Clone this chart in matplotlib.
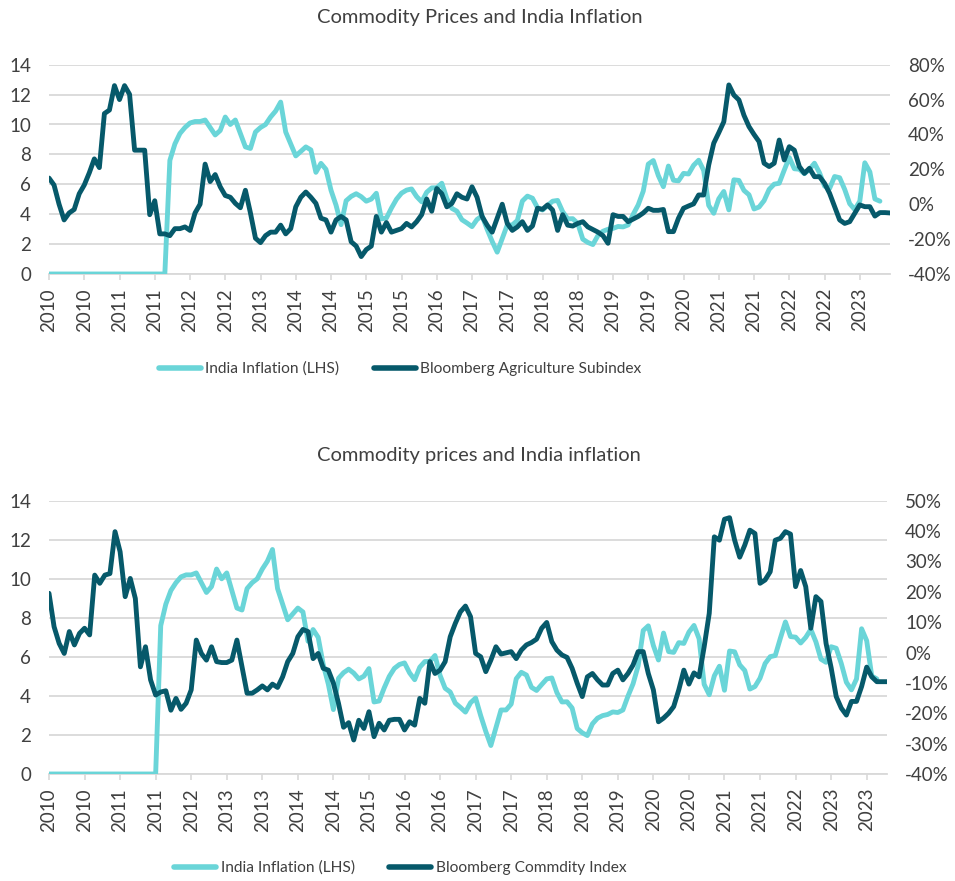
import matplotlib
matplotlib.use('Agg')
import matplotlib.pyplot as plt
from matplotlib.lines import Line2D

# ---------------- data ----------------
# India CPI inflation YoY (%), monthly Jan 2012 - Oct 2023 (series is 0 before 2012)
india_cpi = [
    7.6, 8.7, 9.4, 9.8, 10.1, 10.2, 10.2, 10.3, 9.8, 9.3, 9.6, 10.5,        # 2012
    10.0, 10.3, 9.4, 8.5, 8.4, 9.5, 9.8, 10.0, 10.5, 10.9, 11.5, 9.5,       # 2013
    8.7, 7.9, 8.2, 8.5, 8.3, 6.8, 7.4, 7.0, 5.6, 4.6, 3.3, 4.9,             # 2014
    5.19, 5.37, 5.17, 4.87, 5.01, 5.40, 3.69, 3.74, 4.41, 5.00, 5.41, 5.61,  # 2015
    5.69, 5.18, 4.83, 5.47, 5.76, 5.77, 6.07, 5.05, 4.39, 4.20, 3.63, 3.41,  # 2016
    3.17, 3.65, 3.89, 2.99, 2.18, 1.46, 2.36, 3.28, 3.28, 3.58, 4.88, 5.21,  # 2017
    5.07, 4.44, 4.28, 4.58, 4.87, 4.92, 4.17, 3.69, 3.70, 3.38, 2.33, 2.11,  # 2018
    1.97, 2.57, 2.86, 2.99, 3.05, 3.18, 3.15, 3.28, 3.99, 4.62, 5.54, 7.35,  # 2019
    7.59, 6.58, 5.84, 7.22, 6.27, 6.23, 6.73, 6.69, 7.27, 7.61, 6.93, 4.59,  # 2020
    4.06, 5.03, 5.52, 4.29, 6.30, 6.26, 5.59, 5.30, 4.35, 4.48, 4.91, 5.66,  # 2021
    6.01, 6.07, 6.95, 7.79, 7.04, 7.01, 6.71, 7.00, 7.41, 6.77, 5.88, 5.72,  # 2022
    6.52, 6.44, 5.66, 4.70, 4.31, 4.87, 7.44, 6.83, 5.02, 4.87,              # 2023
]

# Bloomberg Agriculture Subindex YoY (%), monthly Jan 2010 - Dec 2023
agri_yoy = [
    15, 11, 0, -9, -5, -3, 6, 11, 18, 26, 21, 52,                 # 2010
    54, 68, 60, 68, 63, 31, 31, 31, -6, 2, -17, -17,              # 2011
    -18, -14, -14, -13, -15, -5, 0, 23, 13, 17, 10, 5,            # 2012
    4, 0.5, -2, 8, -5, -19.5, -22, -18, -16, -16, -12, -17,       # 2013
    -14, -1.5, 4, 7, 4, 0.5, -8, -9, -16, -9, -7, -9,             # 2014
    -21.5, -24, -30, -26, -24, -7, -16, -10.5, -16, -15, -14, -11,  # 2015
    -13, -10, -6, 3, -4, 9, 6, -1.5, 0.5, 6, 4, 3,                # 2016
    10, 4, -7, -12, -16, -8, 0, -11, -15, -13, -10, -15,          # 2017
    -12.5, -2.3, -2.9, -0.4, -3.3, -15, -6, -12, -12.5, -11, -10, -13,  # 2018
    -14.5, -16, -18, -22.4, -6, -7, -7, -10, -8.5, -7, -5, -2.3,  # 2019
    -3.5, -3.5, -3, -15.7, -15.7, -8, -2.3, -1, 0.2, 5.3, 5.3, 22.5,  # 2020
    35, 41, 47.3, 68.4, 62.6, 59.8, 51, 44.5, 40, 35.9, 23.5, 21.6,   # 2021
    23.5, 36.8, 25.4, 33, 31, 21.6, 17.7, 20.6, 15.8, 15.8, 12, 6.3,  # 2022
    -1.4, -9, -11, -10, -5.2, -0.4, -1.4, -1.4, -6.8, -4.8, -4.8, -5,  # 2023
]

# Bloomberg Commodity Index YoY (%), monthly Mar 2010 - Dec 2023
bcom_yoy = [
    19.5, 8.5, 3, -0.3, 6.9, 2.5, 6.3, 8, 5.8, 25.5,               # 2010 (Mar-Dec)
    22.8, 25.5, 26, 39.8, 33.2, 18.4, 24.4, 17.8, -4.7, 1.9, -9, -14,   # 2011
    -13, -12.6, -19, -15.1, -18.7, -16.7, -12.3, 4.1, -0.3, -2.5, 1.9, -3,  # 2012
    -3.3, -3.3, -2.5, 4.1, -4.7, -13.4, -13.4, -12.3, -11, -12.3, -10.4, -11.5,  # 2013
    -8, -3, -0.3, 5.2, 7.6, 6.9, -2, -0.3, -5.2, -5.8, -10.1, -16.7,   # 2014
    -24.6, -23.1, -28.8, -22.3, -25, -19.5, -27.7, -23.3, -25.5, -22.3, -22, -22,  # 2015
    -25.5, -22.8, -23.9, -15.1, -16.7, -3, -6.9, -5.8, -3, 5.2, 9.6, 13.4,  # 2016
    15.3, 11.8, -0.3, -1.4, -6.3, -2.5, 1.9, -0.5, -0.1, 0.3, -2, 0.8,  # 2017
    2.5, 3.3, 4.4, 8, 9.9, 3.6, 0.8, -0.8, -1.6, -5.2, -10.1, -14.5,   # 2018
    -8, -6.9, -9, -10.7, -10.7, -6.9, -5.8, -9, -6.9, -4.1, 0.3, 0.3,  # 2019
    -6.9, -12.3, -22.8, -21.6, -20, -17.8, -12.3, -5.8, -10.4, -6.7, -8, 1.9,  # 2020
    12.9, 38.1, 37, 43.9, 44.4, 37, 31.4, 35.4, 40.3, 39.2, 22.8, 23.9,  # 2021
    26.6, 37, 37.6, 39.8, 39, 21.7, 27, 21.7, 8, 18.4, 16.8, 3,        # 2022
    -5, -14.5, -18.3, -20.6, -16.1, -16.1, -11.2, -4.8, -8, -9.6, -9.6, -9.6,  # 2023
]

top_tick_labels = ["2010", "2010", "2011", "2011", "2012", "2012", "2013", "2014",
                   "2014", "2015", "2015", "2016", "2017", "2017", "2018", "2018",
                   "2019", "2019", "2020", "2021", "2021", "2022", "2022", "2023"]
bottom_tick_labels = ["2010", "2010", "2011", "2011", "2012", "2013", "2013", "2014",
                      "2014", "2015", "2016", "2016", "2017", "2017", "2018", "2018",
                      "2019", "2020", "2020", "2021", "2021", "2022", "2023", "2023"]

top_infl = [0.0] * 24 + india_cpi      # starts Jan 2010
bottom_infl = [0.0] * 22 + india_cpi   # starts Mar 2010

LIGHT = '#6AD5D8'
DARK = '#06596A'
GRID = '#D9D9D9'
TXT = '#404040'
FONT = ['Lato', 'DejaVu Sans']

plt.rcParams['font.family'] = FONT
plt.rcParams['font.weight'] = 'normal'

fig = plt.figure(figsize=(9.55, 8.81), dpi=100)


def make_panel(rect, infl, comm, rlim, rticks, tick_labels, title, title_y,
               comm_label, legend_y):
    ax = fig.add_axes(rect)
    ax2 = ax.twinx()
    n = len(comm)
    ax.plot(range(len(infl)), infl, color=LIGHT, lw=3.5, solid_capstyle='round',
            solid_joinstyle='round', zorder=3)
    ax2.plot(range(n), comm, color=DARK, lw=3.5, solid_capstyle='round',
             solid_joinstyle='round', zorder=3)
    ax.set_xlim(0, n - 1)
    ax.set_ylim(0, 14)
    ax.set_yticks(range(0, 15, 2))
    ax2.set_ylim(*rlim)
    ax2.set_yticks(rticks)
    ax2.set_yticklabels([f"{t}%" for t in rticks])
    ax.grid(axis='y', color=GRID, lw=1.3, zorder=0)
    ax.set_axisbelow(True)
    ax.set_xticks(range(0, 7 * len(tick_labels), 7))
    ax.set_xticklabels(tick_labels, rotation=90)
    for a in (ax, ax2):
        for s in a.spines.values():
            s.set_visible(False)
    ax.spines['bottom'].set_visible(True)
    ax.spines['bottom'].set_color(GRID)
    ax.spines['bottom'].set_linewidth(1.3)
    ax.tick_params(axis='x', color=GRID, length=4, width=1.2, pad=6,
                   labelcolor=TXT, labelsize=13.5)
    ax.tick_params(axis='y', length=0, pad=13, labelcolor=TXT, labelsize=13.5)
    ax2.tick_params(axis='y', length=0, pad=13, labelcolor=TXT, labelsize=13.5)
    fig.text(0.502, title_y, title, ha='center', va='center', color=TXT,
             fontsize=14.5)
    handles = [Line2D([], [], color=LIGHT, lw=4, solid_capstyle='round'),
               Line2D([], [], color=DARK, lw=4, solid_capstyle='round')]
    fig.legend(handles, ["India Inflation (LHS)", comm_label], loc='center',
               bbox_to_anchor=(0.419, legend_y), ncol=2, frameon=False,
               handlelength=2.7, handletextpad=0.3, columnspacing=2.2,
               prop={'size': 11.2, 'family': FONT},
               labelcolor=TXT)
    return ax, ax2


make_panel([49 / 955, 1 - 274 / 881, 841 / 955, 209.3 / 881],
           top_infl, agri_yoy, (-40, 80), list(range(-40, 81, 20)),
           top_tick_labels, "Commodity Prices and India Inflation",
           1 - 18 / 881, "Bloomberg Agriculture Subindex", 1 - 369 / 881)

make_panel([49 / 955, 1 - 774 / 881, 838 / 955, 273.3 / 881],
           bottom_infl, bcom_yoy, (-40, 50), list(range(-40, 51, 10)),
           bottom_tick_labels, "Commodity prices and India inflation",
           1 - 456 / 881, "Bloomberg Commdity Index", 1 - 868 / 881)

fig.savefig('out.png', dpi=100)
